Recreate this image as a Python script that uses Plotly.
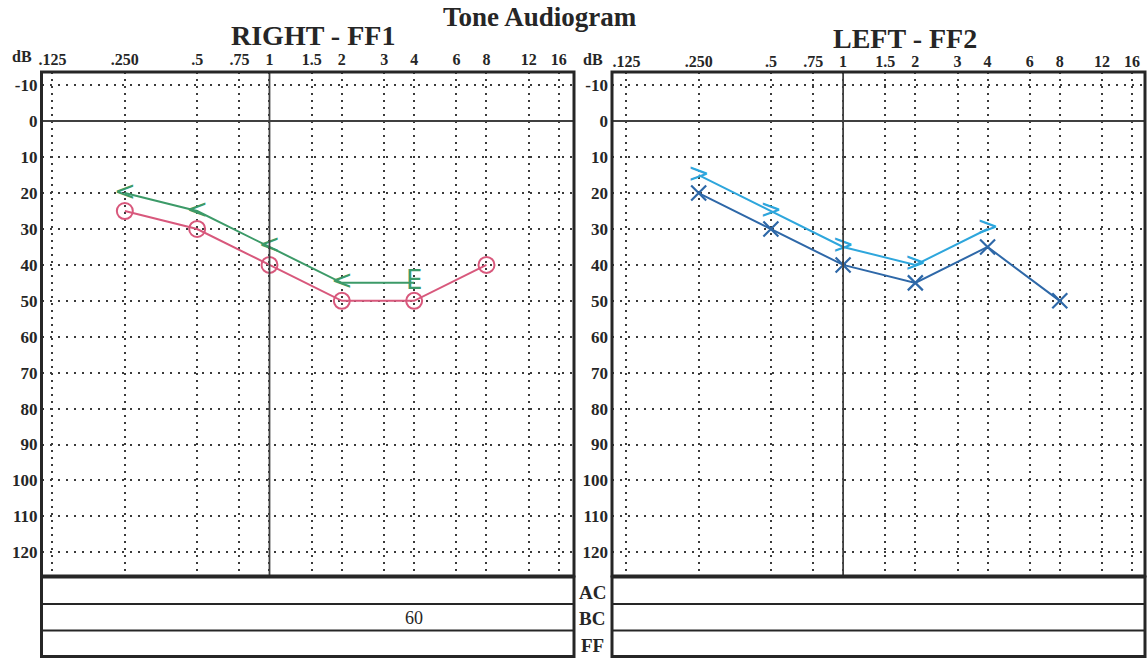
import math
import plotly.graph_objects as go

# ---- axis ticks -------------------------------------------------------------
freq_ticks = [0.125, 0.25, 0.5, 0.75, 1, 1.5, 2, 3, 4, 6, 8, 12, 16]
freq_labels = [".125", ".250", ".5", ".75", "1", "1.5", "2", "3", "4", "6", "8", "12", "16"]
db_ticks = list(range(-10, 121, 10))
db_labels = [str(v) for v in db_ticks]

# ---- right ear (FF1) --------------------------------------------------------
right_freq = [0.25, 0.5, 1, 2, 4, 8]
right_db = [25, 30, 40, 50, 50, 40]
right_ff_freq = [0.25, 0.5, 1, 2, 4]
right_ff_db = [20, 25, 35, 45, 45]
right_ff_sym = ["<", "<", "<", "<", "E"]

# ---- left ear (FF2) ---------------------------------------------------------
left_freq = [0.25, 0.5, 1, 2, 4, 8]
left_db = [20, 30, 40, 45, 35, 50]
left_ff_freq = [0.25, 0.5, 1, 2, 4]
left_ff_db = [15, 25, 35, 40, 30]
left_ff_sym = [">", ">", ">", ">", ">"]

# value written in the BC row of the right-ear table
bc_note_freq = 4
bc_note_text = "60"

RED = "#d8587c"
GREEN = "#3c9a68"
DKBLUE = "#2e68a8"
LTBLUE = "#2ea6dc"
INK = "#262626"
GRID = "#3a3a3a"

W, H = 1147, 658
SERIF = "Liberation Serif"


def px_x(p):
    return p / W


def px_y(p):
    return 1 - p / H


# panel geometry
LEFT_DOM = [px_x(41.5), px_x(574)]
RIGHT_DOM = [px_x(612), px_x(1145)]
GRID_TOP, GRID_BOT = 72, 576
TABLE_TOP, TABLE_BOT = 577, 656.5
ROW_LINES = [604, 630.5]
Y_DOM = [px_y(GRID_BOT), px_y(GRID_TOP)]
Y_RANGE = [126.6, -13.7]

X_RANGE_L = [math.log10(0.125 * 2 ** -0.152), math.log10(16 * 2 ** 0.21)]
X_RANGE_R = [math.log10(0.125 * 2 ** -0.20), math.log10(16 * 2 ** 0.18)]

fig = go.Figure()

# right ear
fig.add_trace(go.Scatter(
    x=right_freq, y=right_db, mode="lines+markers", xaxis="x", yaxis="y",
    line=dict(color=RED, width=2),
    marker=dict(symbol="circle-open", size=16, color=RED, line=dict(width=2, color=RED)),
    showlegend=False, hoverinfo="skip"))
fig.add_trace(go.Scatter(
    x=right_ff_freq, y=right_ff_db, mode="lines+text", xaxis="x", yaxis="y",
    text=right_ff_sym, textposition="middle center",
    textfont=dict(family="DejaVu Sans", size=26, color=GREEN),
    line=dict(color=GREEN, width=2),
    showlegend=False, hoverinfo="skip"))

# left ear
fig.add_trace(go.Scatter(
    x=left_freq, y=left_db, mode="lines+markers", xaxis="x2", yaxis="y2",
    line=dict(color=DKBLUE, width=2),
    marker=dict(symbol="x-thin", size=15, color=DKBLUE, line=dict(width=2.2, color=DKBLUE)),
    showlegend=False, hoverinfo="skip"))
fig.add_trace(go.Scatter(
    x=left_ff_freq, y=left_ff_db, mode="lines+text", xaxis="x2", yaxis="y2",
    text=left_ff_sym, textposition="middle center",
    textfont=dict(family="DejaVu Sans", size=26, color=LTBLUE),
    line=dict(color=LTBLUE, width=2),
    showlegend=False, hoverinfo="skip"))

tickfont = dict(family=SERIF, size=17, color=INK, weight="bold")
xtickfont = dict(family=SERIF, size=16, color=INK, weight="bold")

common_x = dict(
    type="log", side="top", tickmode="array", tickvals=freq_ticks, ticktext=freq_labels,
    showgrid=True, gridcolor=GRID, gridwidth=2, griddash="2px,5px",
    zeroline=False, showline=False, ticks="", tickfont=xtickfont,
    automargin=False, fixedrange=True)
common_y = dict(
    range=Y_RANGE, domain=Y_DOM, tickmode="array", tickvals=db_ticks, ticktext=db_labels,
    showgrid=True, gridcolor=GRID, gridwidth=2, griddash="2px,6px",
    zeroline=True, zerolinecolor="#404040", zerolinewidth=1.6,
    showline=False, ticks="", tickfont=tickfont,
    ticklabelstandoff=3, automargin=False, fixedrange=True)

shapes = []
for dom, xr in ((LEFT_DOM, "x"), (RIGHT_DOM, "x2")):
    # 1 kHz reference line
    shapes.append(dict(type="line", xref=xr, yref=("y" if xr == "x" else "y2") + " domain",
                       x0=1, x1=1, y0=0, y1=1, line=dict(color="#404040", width=1.8)))
    # audiogram frame
    shapes.append(dict(type="rect", xref="paper", yref="paper",
                       x0=dom[0], x1=dom[1], y0=px_y(GRID_BOT), y1=px_y(GRID_TOP),
                       line=dict(color=INK, width=3)))
    # AC / BC / FF table
    shapes.append(dict(type="rect", xref="paper", yref="paper",
                       x0=dom[0], x1=dom[1], y0=px_y(TABLE_BOT), y1=px_y(TABLE_TOP),
                       line=dict(color=INK, width=3)))
    for r in ROW_LINES:
        shapes.append(dict(type="line", xref="paper", yref="paper",
                           x0=dom[0], x1=dom[1], y0=px_y(r), y1=px_y(r),
                           line=dict(color=INK, width=2)))


def label(text, x, y, size, bold=True, xref="paper"):
    font = dict(family=SERIF, size=size, color=INK)
    if bold:
        font["weight"] = "bold"
    return dict(text=text, x=x, y=y, xref=xref, yref="paper", showarrow=False,
                xanchor="center", yanchor="middle", font=font)


annotations = [
    label("Tone Audiogram", px_x(540), px_y(17), 27),
    label("RIGHT - FF1", px_x(313), px_y(35), 28),
    label("LEFT - FF2", px_x(905), px_y(39), 28),
    label("dB", px_x(22), px_y(56), 16),
    label("dB", px_x(593), px_y(60), 16),
]
for lab, yc in (("AC", 592), ("BC", 618.5), ("FF", 645.5)):
    annotations.append(label(lab, px_x(592), px_y(yc), 19))
annotations.append(label(bc_note_text, math.log10(bc_note_freq), px_y(617.5), 18,
                         bold=False, xref="x"))

fig.update_layout(
    template="none",
    width=W, height=H,
    margin=dict(l=0, r=0, t=0, b=0, pad=0),
    paper_bgcolor="white", plot_bgcolor="white",
    xaxis=dict(domain=LEFT_DOM, range=X_RANGE_L, anchor="y", ticklabelstandoff=3, **common_x),
    yaxis=dict(anchor="x", **common_y),
    xaxis2=dict(domain=RIGHT_DOM, range=X_RANGE_R, anchor="y2", ticklabelstandoff=1, **common_x),
    yaxis2=dict(anchor="x2", **common_y),
    shapes=shapes,
    annotations=annotations,
    showlegend=False,
)

fig.write_html("out.html")
